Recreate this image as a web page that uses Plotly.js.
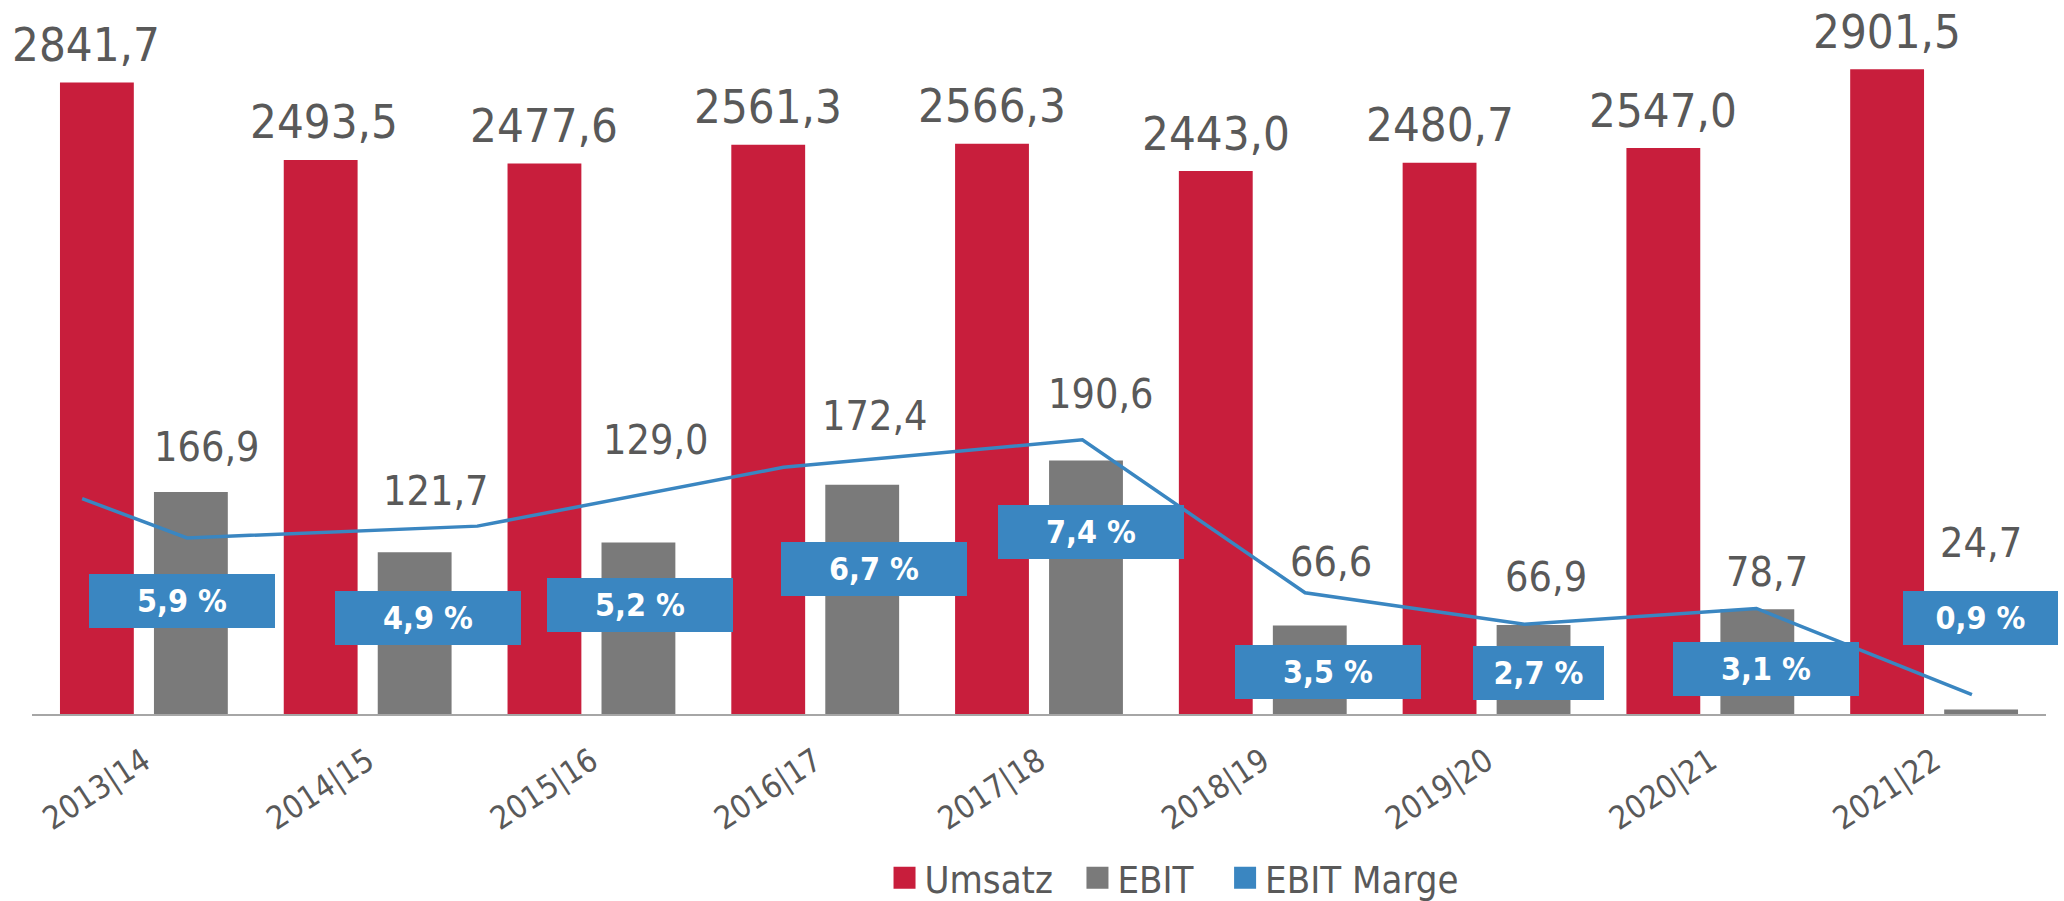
<!DOCTYPE html>
<html>
<head>
<meta charset="utf-8">
<script src="https://cdn.plot.ly/plotly-3.0.1.min.js"></script>
<style>
  html, body { margin: 0; padding: 0; background: #ffffff; }
  #chart { width: 2064px; height: 901px; }
</style>
</head>
<body>
<div id="chart"></div>
<script>
// ---------------- data ----------------
const categories = ['2013|14','2014|15','2015|16','2016|17','2017|18','2018|19','2019|20','2020|21','2021|22'];
const umsatz = [2841.7, 2493.5, 2477.6, 2561.3, 2566.3, 2443.0, 2480.7, 2547.0, 2901.5];
const ebit = [166.9, 121.7, 129.0, 172.4, 190.6, 66.6, 66.9, 78.7, 24.7];          // printed EBIT values
const ebitBars = [166.9, 121.7, 129.0, 172.4, 190.6, 66.6, 66.9, 78.7, 3.3];       // bar heights as drawn in the picture
const marge = [5.9, 4.9, 5.2, 6.7, 7.4, 3.5, 2.7, 3.1, 0.9];                        // EBIT Marge in %

// ---------------- layout helpers (positions / styles) ----------------
const FONT = '"DejaVu Sans Condensed", "DejaVu Sans", sans-serif';
const RED = '#c81e3c', GREY = '#7a7a7a', BLUE = '#3a86c1', TXT = '#595959';
const margeXOffset = [-0.276, -0.807, -0.510, -0.142, 0.194, 0.189, 0.169, 0.206, 0.169];
const umsatzLabelShiftX = [-11, 3, 0, 0, 0, 0, 0, 0, 0];
const ebitLabelShiftX = [16, 21, 18, 13, 15, 21, 12, 10, 0];
const ebitLabelShiftY = [45, 61, 102, 69, 67, 63, 48, 37, 167];
const boxShiftX = [38, 60, 49, 59, 52, 65, 52, 56, 46];
const boxShiftY = [-102, -80, -79, -102, -92, -79, -49, -61, 77];
const boxWidth  = [186, 186, 186, 186, 186, 186, 131, 186, 155];
const legendX = [0.4233, 0.5191, 0.5924];
const legendY = -0.2298;

const de = v => v.toFixed(1).replace('.', ',');

const traces = [
  {
    type: 'bar', name: 'Umsatz', x: categories, y: umsatz, legend: 'legend',
    xaxis: 'x', yaxis: 'y', width: 0.33, offset: -0.375,
    marker: { color: RED, line: { width: 0 } }, hoverinfo: 'x+y'
  },
  {
    type: 'bar', name: 'EBIT', x: categories, y: ebitBars, legend: 'legend2',
    xaxis: 'x', yaxis: 'y2', width: 0.33, offset: 0.045,
    marker: { color: GREY, line: { width: 0 } }, hoverinfo: 'x+y'
  },
  {
    type: 'scatter', mode: 'lines', name: 'EBIT Marge',
    x: categories.map((c, i) => i + margeXOffset[i]), y: marge,
    xaxis: 'x2', yaxis: 'y3', showlegend: false,
    line: { color: BLUE, width: 3.5 }
  },
  {
    type: 'bar', name: 'EBIT Marge', x: [categories[0]], y: [null], legend: 'legend3',
    xaxis: 'x', yaxis: 'y', marker: { color: BLUE, line: { width: 0 } }, hoverinfo: 'skip'
  }
];

const annotations = [];
categories.forEach((c, i) => {
  annotations.push({
    xref: 'x', yref: 'y', x: c, y: umsatz[i], xshift: -47 + umsatzLabelShiftX[i], yshift: 38,
    xanchor: 'center', yanchor: 'middle', showarrow: false, text: de(umsatz[i]),
    font: { family: FONT, size: 47, color: TXT }
  });
  annotations.push({
    xref: 'x', yref: 'y2', x: c, y: ebitBars[i], xshift: 47 + ebitLabelShiftX[i], yshift: ebitLabelShiftY[i],
    xanchor: 'center', yanchor: 'middle', showarrow: false, text: de(ebit[i]),
    font: { family: FONT, size: 41, color: TXT }
  });
  annotations.push({
    xref: 'x', yref: 'y3', x: c, y: marge[i], xshift: boxShiftX[i], yshift: boxShiftY[i],
    xanchor: 'center', yanchor: 'middle', showarrow: false, text: de(marge[i]) + ' %',
    width: boxWidth[i], height: 54, bgcolor: BLUE, borderpad: 0, borderwidth: 0,
    font: { family: FONT, size: 32, color: '#ffffff', weight: 'bold' }
  });
});

const legendStyle = i => ({
  orientation: 'h', x: legendX[i], xanchor: 'left', y: legendY, yanchor: 'middle',
  font: { family: FONT, size: 38, color: TXT }, bgcolor: 'rgba(0,0,0,0)'
});

const layout = {
  width: 2064, height: 901,
  margin: { l: 32, r: 18, t: 0, b: 187, autoexpand: false },
  paper_bgcolor: '#ffffff', plot_bgcolor: '#ffffff',
  font: { family: FONT, color: TXT },
  barmode: 'overlay',
  showlegend: true,
  legend: legendStyle(0),
  legend2: legendStyle(1),
  legend3: legendStyle(2),
  xaxis: {
    type: 'category', range: [-0.5, 8.5], showline: true, linecolor: '#a6a6a6', linewidth: 2,
    ticks: '', tickangle: -33, tickfont: { family: FONT, size: 32, color: TXT },
    showgrid: false, zeroline: false, ticklabelstandoff: 14, fixedrange: true, automargin: false
  },
  xaxis2: { overlaying: 'x', range: [-0.5, 8.5], visible: false, fixedrange: true },
  yaxis: { range: [0, 3213], visible: false, showgrid: false, zeroline: false },
  yaxis2: { overlaying: 'y', range: [0, 537], visible: false, showgrid: false, zeroline: false },
  yaxis3: { overlaying: 'y', range: [0.408, 18.62], visible: false, showgrid: false, zeroline: false },
  annotations: annotations
};

Plotly.newPlot('chart', traces, layout, { displayModeBar: false, staticPlot: true }).then(gd => {
  // enlarge the legend squares to match the reference
  gd.querySelectorAll('.legendpoints path').forEach(p => {
    p.setAttribute('d', 'M11,11H-11V-11H11Z');
  });
});
</script>
</body>
</html>
